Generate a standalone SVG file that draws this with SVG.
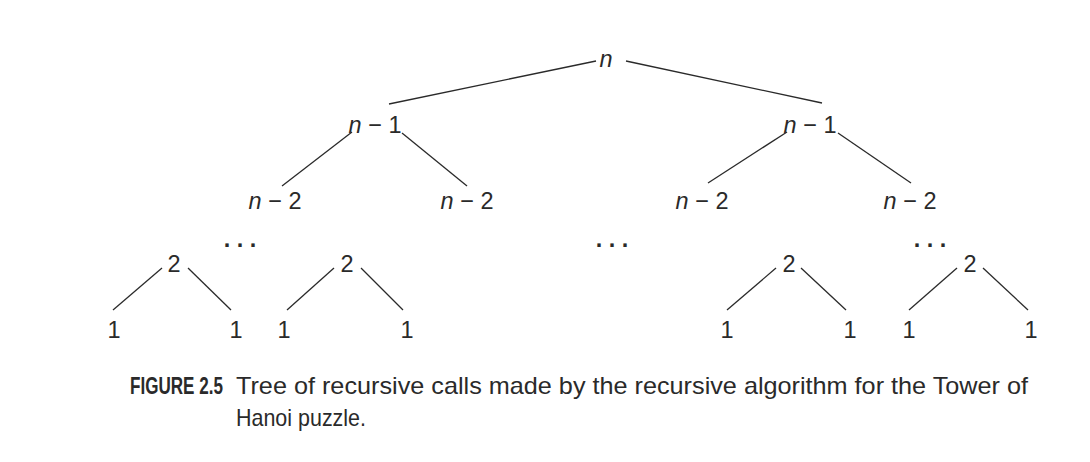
<svg xmlns="http://www.w3.org/2000/svg" width="1090" height="462" viewBox="0 0 1090 462">
<style>
text{font-family:"Liberation Sans",Arial,sans-serif;font-size:23.5px;fill:#2a2a2a}
.lbl{text-anchor:middle}
.it{font-style:italic}
.dots{font-weight:bold}
.edges line{stroke:#2a2a2a;stroke-width:1.3}
.cap{font-size:24px}
.b{font-weight:bold;font-size:23px}
</style>
<rect width="1090" height="462" fill="#fff"/>
<g class="edges" id="edges">
<line x1="596" y1="61" x2="389" y2="104"/>
<line x1="626" y1="61" x2="822" y2="103"/>
<line x1="352" y1="132" x2="282" y2="186"/>
<line x1="402" y1="133" x2="467" y2="186"/>
<line x1="787" y1="132" x2="708" y2="183"/>
<line x1="838" y1="133" x2="911" y2="183"/>
<line x1="162" y1="268" x2="113" y2="310"/>
<line x1="188" y1="268" x2="231" y2="310"/>
<line x1="334" y1="268" x2="287" y2="310"/>
<line x1="361" y1="268" x2="403" y2="310"/>
<line x1="776" y1="268" x2="727" y2="310"/>
<line x1="801" y1="268" x2="846" y2="310"/>
<line x1="957" y1="268" x2="909" y2="310"/>
<line x1="983" y1="268" x2="1028" y2="310"/>
</g>
<g id="n"><text class="lbl it" x="606" y="67">n</text></g>
<g id="n1L"><text class="lbl" x="375" y="133"><tspan class="it">n</tspan> − 1</text></g>
<g id="n1R"><text class="lbl" x="810" y="133"><tspan class="it">n</tspan> − 1</text></g>
<g id="n2a"><text class="lbl" x="275" y="209"><tspan class="it">n</tspan> − 2</text></g>
<g id="n2b"><text class="lbl" x="467" y="209"><tspan class="it">n</tspan> − 2</text></g>
<g id="n2c"><text class="lbl" x="702" y="209"><tspan class="it">n</tspan> − 2</text></g>
<g id="n2d"><text class="lbl" x="910" y="209"><tspan class="it">n</tspan> − 2</text></g>
<g id="dots1"><text class="lbl dots" x="240" y="247">. . .</text></g>
<g id="dots2"><text class="lbl dots" x="612" y="247">. . .</text></g>
<g id="dots3"><text class="lbl dots" x="930" y="247">. . .</text></g>
<g id="t2a"><text class="lbl" x="174" y="272">2</text></g>
<g id="t2b"><text class="lbl" x="347" y="272">2</text></g>
<g id="t2c"><text class="lbl" x="789" y="272">2</text></g>
<g id="t2d"><text class="lbl" x="970" y="272">2</text></g>
<g id="l1"><text class="lbl" x="114" y="338">1</text></g>
<g id="l2"><text class="lbl" x="236" y="338">1</text></g>
<g id="l3"><text class="lbl" x="284" y="338">1</text></g>
<g id="l4"><text class="lbl" x="407" y="338">1</text></g>
<g id="l5"><text class="lbl" x="727" y="338">1</text></g>
<g id="l6"><text class="lbl" x="850" y="338">1</text></g>
<g id="l7"><text class="lbl" x="909" y="338">1</text></g>
<g id="l8"><text class="lbl" x="1031" y="338">1</text></g>
<g id="caption">
<text class="b" transform="translate(130,394) scale(0.742,1)">FIGURE 2.5</text>
<text class="cap" x="236" y="394" textLength="792" lengthAdjust="spacingAndGlyphs">Tree of recursive calls made by the recursive algorithm for the Tower of</text>
<text class="cap" x="236" y="426" textLength="130" lengthAdjust="spacingAndGlyphs">Hanoi puzzle.</text>
</g>
</svg>
